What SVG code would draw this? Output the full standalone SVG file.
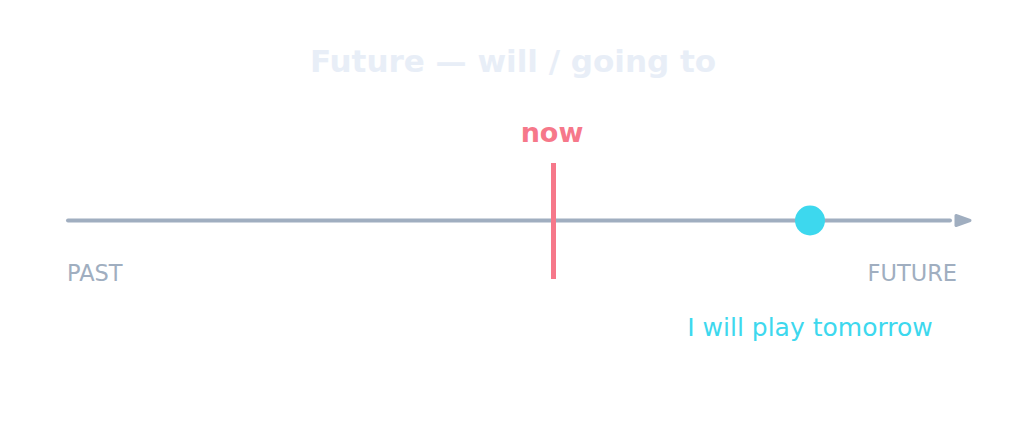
<svg xmlns="http://www.w3.org/2000/svg" width="1026" height="441" viewBox="0 0 1026 441">
<style>
text{font-family:"DejaVu Sans","Noto Sans",sans-serif}
.title{font-size:31px;font-weight:bold;fill:#e8eef7}
.axis{stroke:#a0aec0;stroke-width:4;stroke-linecap:round;fill:none}
.lbl{font-size:22.5px;fill:#a0aec0}
.now{font-size:27px;font-weight:bold;fill:#f6788a}
.ev{font-size:25px;fill:#3dd8ee}
</style>
<rect width="1026" height="441" fill="#ffffff"/>
<text class="title" x="513" y="72" text-anchor="middle">Future — will / going to</text>
<g id="connectors">
<line class="axis" x1="68" y1="220.5" x2="950" y2="220.5"/>
<path d="M956,215.5 L970,220.5 L956,225.5 Z" fill="#a0aec0" stroke="#a0aec0" stroke-width="3" stroke-linejoin="round"/>
</g>
<g id="now">
<line x1="553.5" y1="163" x2="553.5" y2="279" stroke="#f6788a" stroke-width="5"/>
<text class="now" x="552" y="142" text-anchor="middle">now</text>
</g>
<g id="past"><text class="lbl" x="67" y="281">PAST</text></g>
<g id="future"><text class="lbl" x="957" y="281" text-anchor="end">FUTURE</text></g>
<g id="event">
<circle cx="810" cy="220.5" r="15" fill="#3dd8ee"/>
<text class="ev" x="810" y="336" text-anchor="middle">I will play tomorrow</text>
</g>
</svg>
